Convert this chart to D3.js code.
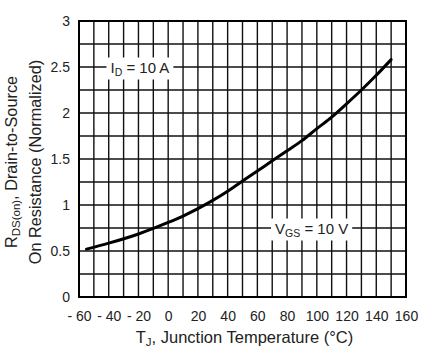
<!DOCTYPE html>
<html>
<head>
<meta charset="utf-8">
<script src="https://cdn.jsdelivr.net/npm/d3@7"></script>
<style>
	body { margin: 0; background: #fff; }
	text { font-family: "Liberation Sans", Arial, sans-serif; fill: #222; }
</style>
</head>
<body>
<div id="chart"></div>
<script>
// Junction temperature (°C) vs normalized on-resistance
const temps = [-55, -40, -20, -10, 0, 10, 20, 30, 40, 50, 60, 70, 80, 90, 100, 110, 120, 130, 140, 150];
const rdson = [0.52, 0.585, 0.685, 0.745, 0.81, 0.88, 0.96, 1.05, 1.15, 1.26, 1.37, 1.48, 1.59, 1.70, 1.83, 1.955, 2.10, 2.25, 2.41, 2.58];

const xTicks = [-60, -40, -20, 0, 20, 40, 60, 80, 100, 120, 140, 160];
const yTicks = [0, 0.5, 1, 1.5, 2, 2.5, 3];

const width = 432, height = 354;
const margin = {top: 21, right: 26, bottom: 57, left: 79};

const svg = d3.select("#chart").append("svg")
	.attr("width", width).attr("height", height);

const x = d3.scaleLinear([-60, 160], [margin.left, width - margin.right]);
const y = d3.scaleLinear([0, 3], [height - margin.bottom, margin.top]);

// grid: every 10 °C and every 0.25
const grid = svg.append("g").attr("stroke", "#111").attr("stroke-width", 1.4);
grid.selectAll("line.gx")
	.data(d3.range(-50, 160, 10))
	.join("line")
	.attr("x1", d => x(d)).attr("x2", d => x(d))
	.attr("y1", y(0)).attr("y2", y(3));
grid.selectAll("line.gy")
	.data(d3.range(0.25, 3, 0.25))
	.join("line")
	.attr("y1", d => y(d)).attr("y2", d => y(d))
	.attr("x1", x(-60)).attr("x2", x(160));

// frame
svg.append("rect")
	.attr("x", x(-60)).attr("y", y(3))
	.attr("width", x(160) - x(-60)).attr("height", y(0) - y(3))
	.attr("fill", "none").attr("stroke", "#000").attr("stroke-width", 2);

// axes (labels only)
const axisX = svg.append("g")
	.attr("transform", `translate(0, ${y(0)})`)
	.call(d3.axisBottom(x).tickValues(xTicks).tickSize(0).tickPadding(14)
		.tickFormat(d => d < 0 ? "- " + (-d) : d));
const axisY = svg.append("g")
	.attr("transform", `translate(${x(-60)}, 0)`)
	.call(d3.axisLeft(y).tickValues(yTicks).tickSize(0).tickPadding(9)
		.tickFormat(d => d));
[axisX, axisY].forEach(a => {
	a.select(".domain").remove();
	a.selectAll("text").attr("font-size", 14).attr("fill", "#222")
		.attr("font-family", "Liberation Sans, Arial, sans-serif");
});

// curve
const line = d3.line()
	.x((d, i) => x(temps[i]))
	.y(d => y(d))
	.curve(d3.curveMonotoneX);
svg.append("path")
	.attr("d", line(rdson))
	.attr("fill", "none").attr("stroke", "#000").attr("stroke-width", 3)
	.attr("stroke-linecap", "round");

// annotations with white boxes
function note(cx, cy, main, sub, rest) {
	const g = svg.append("g");
	const bg = g.append("rect").attr("fill", "#fff");
	const t = g.append("text").attr("x", cx).attr("y", cy + 5.5)
		.attr("font-size", 15).attr("text-anchor", "middle");
	t.append("tspan").text(main);
	t.append("tspan").attr("font-size", 10.5).attr("dy", 3).text(sub);
	t.append("tspan").attr("dy", -3).text(rest);
	const b = t.node().getBBox();
	bg.attr("x", b.x - 4).attr("y", b.y - 1).attr("width", b.width + 8).attr("height", b.height + 3);
}
note(x(-19), y(2.5), "I", "D", " = 10 A");
note(x(96.5), y(0.75), "V", "GS", " = 10 V");

// axis titles
const tx = svg.append("text")
	.attr("x", (x(-60) + x(160)) / 2 + 2).attr("y", 343)
	.attr("font-size", 16.5).attr("text-anchor", "middle");
tx.append("tspan").text("T");
tx.append("tspan").attr("font-size", 11.5).attr("dy", 3).text("J");
tx.append("tspan").attr("dy", -3).text(", Junction Temperature (°C)");

const yc = 162;
const ty1 = svg.append("text")
	.attr("transform", `translate(17, ${yc}) rotate(-90)`)
	.attr("font-size", 16.3).attr("text-anchor", "middle");
ty1.append("tspan").text("R");
ty1.append("tspan").attr("font-size", 11.5).attr("dy", 3).text("DS(on)");
ty1.append("tspan").attr("dy", -3).text(", Drain-to-Source");

svg.append("text")
	.attr("transform", `translate(41, ${yc}) rotate(-90)`)
	.attr("font-size", 16.3).attr("text-anchor", "middle")
	.text("On Resistance (Normalized)");
</script>
</body>
</html>
